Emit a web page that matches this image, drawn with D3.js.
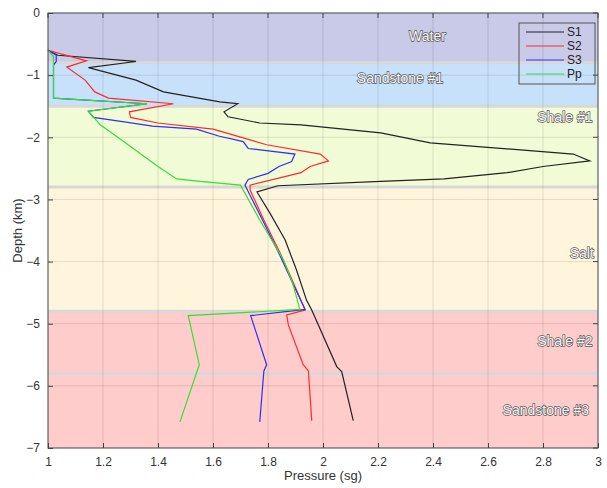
<!DOCTYPE html>
<html>
<head>
<meta charset="utf-8">
<script src="https://cdn.jsdelivr.net/npm/d3@7"></script>
<style>
  body { margin: 0; background: #fff; }
  text { font-family: "Liberation Sans", Arial, sans-serif; }
</style>
</head>
<body>
<svg id="chart" width="607" height="488"></svg>
<script>
(function () {
    'use strict';

    // layers (depth in km)
    var layerNames = ['Water', 'Sandstone #1', 'Shale #1', 'Salt', 'Shale #2', 'Sandstone #3'];
    var layerTops = [0, -0.8, -1.5, -2.8, -4.8, -5.8];
    var layerBottoms = [-0.8, -1.5, -2.8, -4.8, -5.8, -7];
    var layerColors = ['#c9c9e8', '#c8e1fb', '#f1fbd6', '#fff4dc', '#ffcccc', '#ffcccc'];
    var labelPressure = [2.38, 2.28, 2.98, 2.985, 2.98, 2.81];
    var labelDepth = [-0.37, -1.05, -1.67, -3.86, -5.28, -6.39];
    var labelAnchor = ['middle', 'middle', 'end', 'end', 'end', 'middle'];

    var xTicks = [1, 1.2, 1.4, 1.6, 1.8, 2, 2.2, 2.4, 2.6, 2.8, 3];
    var yTicks = [0, -1, -2, -3, -4, -5, -6, -7];

    // S1
    var s1Pressure = [1.0, 1.036, 1.32, 1.147, 1.32, 1.42, 1.625, 1.69, 1.64, 1.655, 1.77, 1.92, 2.21, 2.39, 2.91, 2.97,
        2.80, 2.67, 2.44, 2.21, 1.836, 1.76, 1.807, 1.862, 1.904, 1.94, 1.959, 2.05, 2.068, 2.11];
    var s1Depth = [-0.6, -0.68, -0.78, -0.88, -1.08, -1.27, -1.43, -1.46, -1.59, -1.67, -1.77, -1.8, -1.93, -2.09, -2.27, -2.38,
        -2.47, -2.57, -2.67, -2.71, -2.78, -2.88, -3.22, -3.65, -4.14, -4.62, -4.78, -5.69, -5.77, -6.56];
    // S2
    var s2Pressure = [1.0, 1.14, 1.068, 1.135, 1.17, 1.22, 1.456, 1.296, 1.30, 1.40, 1.60, 1.71, 1.795, 1.99, 2.02,
        1.953, 1.92, 1.735, 1.735, 1.785, 1.845, 1.893, 1.935, 1.868, 1.874, 1.928, 1.947, 1.959];
    var s2Depth = [-0.6, -0.77, -0.87, -1.08, -1.27, -1.37, -1.46, -1.59, -1.68, -1.77, -1.87, -2.01, -2.12, -2.27, -2.38,
        -2.47, -2.57, -2.77, -2.85, -3.33, -3.87, -4.35, -4.78, -4.86, -5.02, -5.66, -5.76, -6.56];
    // S3
    var s3Pressure = [1.0, 1.03, 1.03, 1.02, 1.02, 1.36, 1.147, 1.165, 1.29, 1.38, 1.54, 1.62, 1.71, 1.728, 1.898, 1.886,
        1.84, 1.80, 1.728, 1.716, 1.78, 1.84, 1.89, 1.935, 1.737, 1.795, 1.785, 1.77];
    var s3Depth = [-0.6, -0.68, -0.78, -0.84, -1.37, -1.46, -1.58, -1.68, -1.76, -1.82, -1.87, -1.98, -2.07, -2.18, -2.27, -2.39,
        -2.47, -2.58, -2.68, -2.77, -3.33, -3.87, -4.35, -4.77, -4.87, -5.66, -5.76, -6.58];
    // Pp
    var ppPressure = [1.0, 1.02, 1.02, 1.36, 1.147, 1.19, 1.26, 1.335, 1.40, 1.468, 1.553, 1.70, 1.77, 1.856, 1.89, 1.916,
        1.51, 1.55, 1.48];
    var ppDepth = [-0.6, -0.7, -1.37, -1.46, -1.58, -1.8, -2.02, -2.26, -2.47, -2.67, -2.71, -2.77, -3.33, -3.97, -4.35, -4.77,
        -4.87, -5.66, -6.58];

    var seriesNames = ['S1', 'S2', 'S3', 'Pp'];
    var seriesColors = ['#222222', '#ff2a2a', '#3030ee', '#33e033'];
    var seriesPressure = [s1Pressure, s2Pressure, s3Pressure, ppPressure];
    var seriesDepth = [s1Depth, s2Depth, s3Depth, ppDepth];

    var margin = {left: 48, top: 13, right: 9, bottom: 40};
    var width = 607 - margin.left - margin.right;
    var height = 488 - margin.top - margin.bottom;

    var svg = d3.select('#chart');
    var g = svg.append('g').attr('transform', 'translate(' + margin.left + ',' + margin.top + ')');

    var x = d3.scaleLinear().domain([1, 3]).range([0, width]);
    var y = d3.scaleLinear().domain([-7, 0]).range([height, 0]);

    // layer bands
    g.selectAll('rect.layer')
        .data(layerNames)
        .enter()
        .append('rect')
        .attr('class', 'layer')
        .attr('x', 0)
        .attr('width', width)
        .attr('y', function (d, i) { return y(layerTops[i]); })
        .attr('height', function (d, i) { return y(layerBottoms[i]) - y(layerTops[i]); })
        .attr('fill', function (d, i) { return layerColors[i]; });

    // layer boundaries
    g.selectAll('line.bound')
        .data(layerBottoms.slice(0, -1))
        .enter()
        .append('line')
        .attr('x1', 0).attr('x2', width)
        .attr('y1', function (d) { return y(d); })
        .attr('y2', function (d) { return y(d); })
        .attr('stroke', '#d8d8d8')
        .attr('stroke-width', 3);

    // grid
    g.selectAll('line.gx')
        .data(xTicks.slice(1, -1))
        .enter()
        .append('line')
        .attr('x1', function (d) { return x(d); })
        .attr('x2', function (d) { return x(d); })
        .attr('y1', 0).attr('y2', height)
        .attr('stroke', '#000').attr('stroke-opacity', 0.1);
    g.selectAll('line.gy')
        .data(yTicks.slice(1, -1))
        .enter()
        .append('line')
        .attr('y1', function (d) { return y(d); })
        .attr('y2', function (d) { return y(d); })
        .attr('x1', 0).attr('x2', width)
        .attr('stroke', '#000').attr('stroke-opacity', 0.1);

    // layer labels
    g.selectAll('text.layerLabel')
        .data(layerNames)
        .enter()
        .append('text')
        .attr('x', function (d, i) { return x(labelPressure[i]); })
        .attr('y', function (d, i) { return y(labelDepth[i]); })
        .attr('dy', '0.35em')
        .attr('text-anchor', function (d, i) { return labelAnchor[i]; })
        .attr('font-size', 14)
        .attr('fill', '#fafafa')
        .attr('stroke', '#555')
        .attr('stroke-width', 1.3)
        .attr('paint-order', 'stroke')
        .text(function (d) { return d; });

    // curves
    var line = d3.line()
        .x(function (d) { return x(d[0]); })
        .y(function (d) { return y(d[1]); });

    g.selectAll('path.series')
        .data(seriesNames)
        .enter()
        .append('path')
        .attr('fill', 'none')
        .attr('stroke', function (d, i) { return seriesColors[i]; })
        .attr('stroke-width', 1.2)
        .attr('d', function (d, i) {
            return line(d3.zip(seriesPressure[i], seriesDepth[i]));
        });

    // axes, ticks inward
    var xAxis = g.append('g').attr('transform', 'translate(0,' + height + ')')
        .call(d3.axisBottom(x).tickValues(xTicks).tickFormat(d3.format('')).tickSizeInner(-5).tickSizeOuter(0).tickPadding(9));
    var yAxis = g.append('g')
        .call(d3.axisLeft(y).tickValues(yTicks).tickFormat(d3.format('')).tickSizeInner(-5).tickSizeOuter(0).tickPadding(8));
    [xAxis, yAxis].forEach(function (a) {
        a.select('.domain').remove();
        a.selectAll('line').attr('stroke', '#444');
        a.selectAll('text').attr('font-size', 12).attr('fill', '#333')
            .style('font-family', '"Liberation Sans", Arial, sans-serif');
    });
    // top/right ticks
    g.selectAll('line.tt')
        .data(xTicks)
        .enter()
        .append('line')
        .attr('x1', function (d) { return x(d); })
        .attr('x2', function (d) { return x(d); })
        .attr('y1', 0).attr('y2', 5)
        .attr('stroke', '#444');
    g.selectAll('line.rt')
        .data(yTicks)
        .enter()
        .append('line')
        .attr('y1', function (d) { return y(d); })
        .attr('y2', function (d) { return y(d); })
        .attr('x1', width).attr('x2', width - 5)
        .attr('stroke', '#444');

    g.append('rect')
        .attr('width', width).attr('height', height)
        .attr('fill', 'none').attr('stroke', '#444').attr('stroke-width', 1);

    // axis titles
    svg.append('text')
        .attr('x', margin.left + width / 2)
        .attr('y', 480)
        .attr('text-anchor', 'middle')
        .attr('font-size', 13)
        .attr('fill', '#333')
        .text('Pressure (sg)');
    svg.append('text')
        .attr('transform', 'translate(22,' + (margin.top + height / 2) + ') rotate(-90)')
        .attr('text-anchor', 'middle')
        .attr('font-size', 13)
        .attr('fill', '#333')
        .text('Depth (km)');

    // legend
    var legend = g.append('g').attr('transform', 'translate(' + (width - 79) + ',10)');
    legend.append('rect')
        .attr('width', 76).attr('height', 61)
        .attr('fill', 'none')
        .attr('stroke', '#555');
    var items = legend.selectAll('g.item')
        .data(seriesNames)
        .enter()
        .append('g')
        .attr('transform', function (d, i) { return 'translate(0,' + (9 + i * 14) + ')'; });
    items.append('line')
        .attr('x1', 7).attr('x2', 45)
        .attr('stroke', function (d, i) { return seriesColors[i]; })
        .attr('stroke-width', 1.2);
    items.append('text')
        .attr('x', 48)
        .attr('dy', '0.35em')
        .attr('font-size', 12)
        .attr('fill', '#222')
        .text(function (d) { return d; });
})();
</script>
</body>
</html>
